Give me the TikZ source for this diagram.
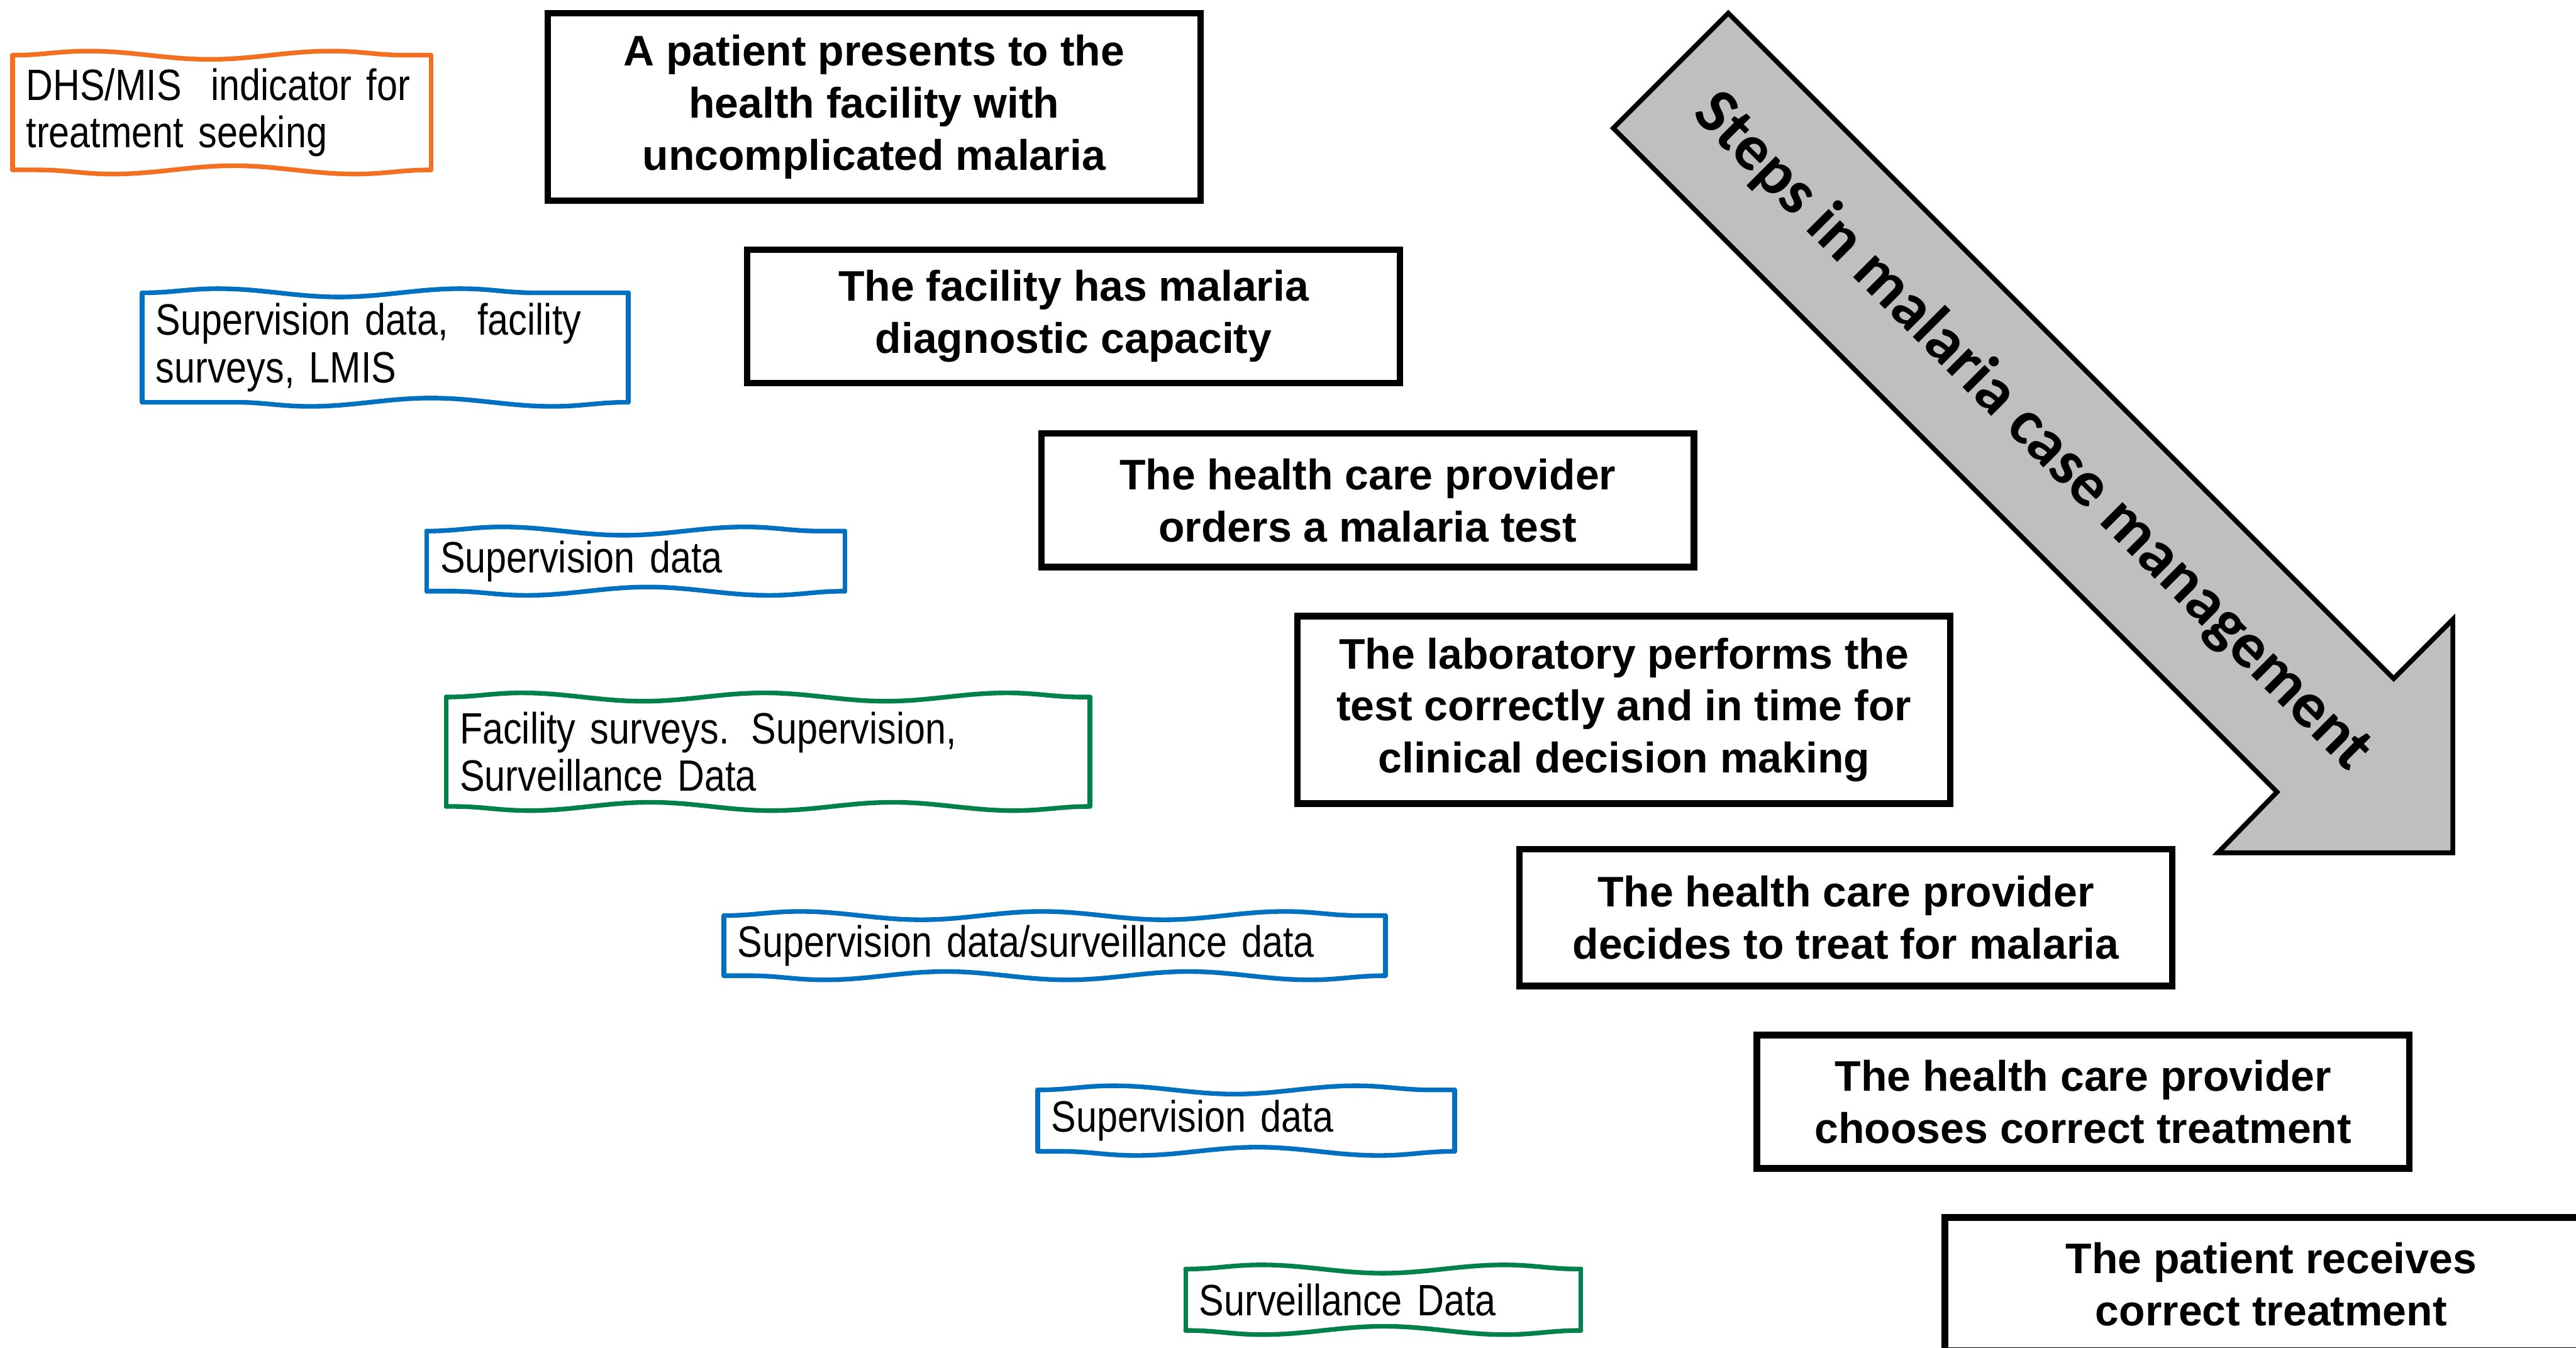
\documentclass[tikz,border=0pt]{standalone}
\usepackage{fontspec}
\setmainfont{Liberation Sans}
\newfontfamily\arrowfont{Carlito}
\newfontfamily\srcfont[FakeStretch=0.85]{Liberation Sans}
\usetikzlibrary{decorations.pathmorphing}
\definecolor{srcorange}{HTML}{F37021}
\definecolor{srcblue}{HTML}{0070C0}
\definecolor{srcgreen}{HTML}{00804A}

\begin{document}
\begin{tikzpicture}[x=0.025cm,y=-0.025cm,
 stepbox/.style={draw,line width=2.8pt,fill=white,minimum width=9.93cm,minimum height=2.03cm,
   align=center,inner sep=0pt,font=\bfseries\fontsize{18.5}{22.5}\selectfont},
 srcbox/.style={align=left,inner xsep=0.2cm,inner ysep=0pt,font=\srcfont\fontsize{19}{20.6}\selectfont},
 wave/.style={line width=2pt,line cap=round,decorate,decoration={snake,segment length=105pt,amplitude=1.8pt}},
 side/.style={line width=2pt,line cap=round,decorate,decoration={snake,segment length=140pt,amplitude=0.6pt}}]
 \useasboundingbox (0,0) rectangle (1568,820);
 % steps, left to right
 \node[stepbox,minimum height=2.85cm] (step1) at (532,65) {A patient presents to the\\health facility with\\uncomplicated malaria};
 \node[stepbox] (step2) at (653.5,192.5) {The facility has malaria\\diagnostic capacity};
 \node[stepbox] (step3) at (832.5,304.5) {The health care provider\\orders a malaria test};
 \node[stepbox,minimum height=2.85cm] (step4) at (988.5,432) {The laboratory performs the\\test correctly and in time for\\clinical decision making};
 \node[stepbox,minimum height=2.08cm] (step5) at (1123.5,558.5) {The health care provider\\decides to treat for malaria};
 \node[stepbox] (step6) at (1268,670.5) {The health care provider\\chooses correct treatment};
 \node[stepbox] (step7) at (1382.5,781.5) {The patient receives\\correct treatment};
 % data sources
 \node[srcbox,text width=5.95cm,minimum height=1.73cm] (src1) at (135,68.5) {DHS/MIS\ \ indicator for\\treatment seeking};
 \node[srcbox,text width=6.98cm,minimum height=1.65cm] (src2) at (234.5,211.5) {Supervision data,\ \ facility\\surveys, LMIS};
 \node[srcbox,text width=5.95cm,minimum height=0.9cm] (src3) at (387,341.5) {Supervision data};
 \node[srcbox,text width=9.38cm,minimum height=1.65cm] (src4) at (467.5,457.5) {Facility surveys. Supervision,\\Surveillance Data};
 \node[srcbox,text width=9.65cm,minimum height=0.9cm] (src5) at (642,575.5) {Supervision data/surveillance data};
 \node[srcbox,text width=5.93cm,minimum height=0.92cm] (src6) at (758.5,682) {Supervision data};
 \node[srcbox,text width=5.6cm,minimum height=0.92cm] (src7) at (842,791) {Surveillance Data};
 % hand drawn frames
 \foreach \n/\c in {src1/srcorange,src2/srcblue,src3/srcblue,src4/srcgreen,src5/srcblue,src6/srcblue,src7/srcgreen}{
   \draw[wave,\c] (\n.north west) -- (\n.north east);
   \draw[wave,\c] (\n.south east) -- (\n.south west);
   \draw[side,\c] (\n.north east) -- (\n.south east);
   \draw[side,\c] (\n.south west) -- (\n.north west);
 }
 % big arrow
 \draw[line width=2.1pt,fill=gray!50] (1052,8)--(1457,413)--(1493,377)--(1493,519)--(1350,519)--(1386,482)--(982,78)--cycle;
 \node[rotate=-45,font=\arrowfont\bfseries\fontsize{28}{30}\selectfont] (steps) at (1237,263) {Steps in malaria case management};
\end{tikzpicture}
\end{document}
